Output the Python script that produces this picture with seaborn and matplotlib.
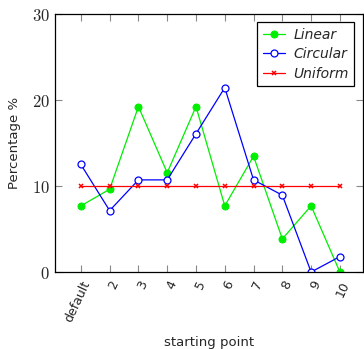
import matplotlib
matplotlib.use("Agg")
import matplotlib.pyplot as plt
import numpy as np
import pandas as pd
import seaborn as sns

# starting points and share of runs (percent) per strategy
starts = ["default", "2", "3", "4", "5", "6", "7", "8", "9", "10"]
linear = [7.69, 9.62, 19.23, 11.54, 19.23, 7.69, 13.46, 3.85, 7.69, 0.0]
circular = [12.5, 7.14, 10.71, 10.71, 16.07, 21.43, 10.71, 8.93, 0.0, 1.79]
uniform = [10, 10, 10, 10, 10, 10, 10, 10, 10, 10]
yticks = [0, 10, 20, 30]

if __name__ == "__main__":
    sns.set_style("ticks")
    plt.rcParams["font.family"] = ["DejaVu Sans"]
    plt.rcParams["mathtext.fontset"] = "cm"

    pos = np.arange(1, len(starts) + 1)
    df = pd.DataFrame({"pos": pos, "Linear": linear, "Circular": circular, "Uniform": uniform})

    fig = plt.figure(figsize=(3.64, 3.49), dpi=100)
    ax = fig.add_axes([0.151, 0.2206, 0.846, 0.7394])

    styles = {
        "Linear": dict(color="#00ee00", marker="o", markersize=5, markerfacecolor="#00ee00",
                       markeredgecolor="#00ee00"),
        "Circular": dict(color="#0000ff", marker="o", markersize=5, markerfacecolor="white",
                         markeredgecolor="#0000ff", markeredgewidth=0.9),
        "Uniform": dict(color="#ff0000", marker="x", markersize=3.5, markeredgecolor="#ff0000",
                        markeredgewidth=1.1),
    }
    for name, st in styles.items():
        sns.lineplot(data=df, x="pos", y=name, ax=ax, label=name, linewidth=0.9, **st)

    ax.set_xlim(0.1, 10.8)
    ax.set_ylim(0, 30)
    ax.set_xticks(pos)
    ax.set_xticklabels(starts, rotation=65, ha="right", rotation_mode="anchor", fontsize=9)
    ax.set_yticks(yticks)
    ax.set_yticklabels([f"${v}$" for v in yticks], fontsize=12)
    ax.tick_params(direction="in", top=True, right=True, length=5, width=0.8, color="#888888")
    ax.tick_params(axis="x", pad=5)
    for s in ax.spines.values():
        s.set_linewidth(0.9)
        s.set_color("black")

    ax.set_xlabel("starting point", fontsize=9.5, labelpad=8)
    ax.set_ylabel("Percentage %", fontsize=9.5, labelpad=8)

    leg = ax.legend(loc="upper right", frameon=True, fancybox=False, fontsize=10,
                    borderaxespad=0.5, handlelength=1.6, labelspacing=0.4,
                    borderpad=0.4, handletextpad=0.6,
                    bbox_to_anchor=(0.995, 0.995))
    leg.get_frame().set_edgecolor("black")
    leg.get_frame().set_linewidth(0.9)
    leg.get_frame().set_alpha(1)
    for t in leg.get_texts():
        t.set_fontstyle("italic")

    fig.savefig("out.png", dpi=100)
